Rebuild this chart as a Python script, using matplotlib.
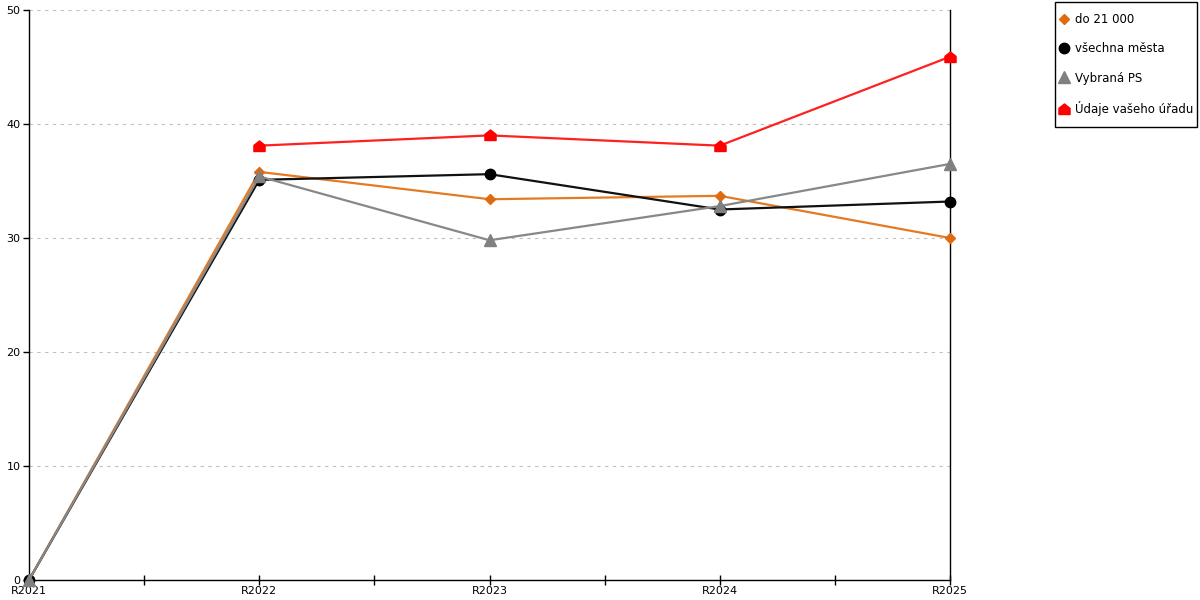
import matplotlib
matplotlib.use("Agg")
import matplotlib.pyplot as plt
from matplotlib.path import Path
from matplotlib.patches import Rectangle

# data
years = ["R2021", "R2022", "R2023", "R2024", "R2025"]
do_21000 = [0, 35.8, 33.4, 33.7, 30.0]
vsechna_mesta = [0, 35.1, 35.6, 32.5, 33.2]
vybrana_ps = [0, 35.4, 29.8, 32.8, 36.5]
vas_urad = [None, 38.1, 39.0, 38.1, 45.9]

plt.rcParams['font.family'] = ['DejaVu Sans']

# house-shaped marker for the office series
house = Path([(-1, -0.9), (1, -0.9), (1, 0.2), (0, 1), (-1, 0.2), (-1, -0.9)],
             [Path.MOVETO, Path.LINETO, Path.LINETO, Path.LINETO, Path.LINETO, Path.CLOSEPOLY])

W, H = 1200, 600
fig = plt.figure(figsize=(12, 6), dpi=100)
ax = fig.add_axes([29 / W, 20 / H, (950 - 29) / W, 570 / H])

x = list(range(len(years)))
ax.plot(x, do_21000, color="#E57A25", lw=1.6, marker="D", ms=5.5,
        mfc="#E06A10", mec="#E06A10", label="do 21 000", zorder=3, clip_on=False)
ax.plot(x, vsechna_mesta, color="#111111", lw=1.6, marker="o", ms=7.5,
        mfc="black", mec="black", label="všechna města", zorder=4, clip_on=False)
ax.plot(x, vybrana_ps, color="#888888", lw=1.6, marker="^", ms=8,
        mfc="#808080", mec="#808080", label="Vybraná PS", zorder=5, clip_on=False)
xr = [i for i, v in enumerate(vas_urad) if v is not None]
yr = [v for v in vas_urad if v is not None]
ax.plot(xr, yr, color="#FF2020", lw=1.6, marker=house, ms=8,
        mfc="red", mec="red", label="Údaje vašeho úřadu", zorder=6, clip_on=False)

ax.set_xlim(0, len(years) - 1)
ax.set_ylim(0, 50)
ax.set_yticks(range(0, 51, 10))
ax.set_xticks(x)
ax.set_xticklabels(years)
ax.set_xticks([i + 0.5 for i in x[:-1]], minor=True)
ax.tick_params(axis="x", which="both", direction="inout", length=7, width=1,
               labelsize=8, pad=1)
ax.tick_params(axis="y", direction="out", length=4, width=1, labelsize=8, pad=2)
ax.tick_params(axis="y", right=False)

ax.grid(axis="y", linestyle=(0, (3, 4)), color="#c0c0c0", lw=0.8)
ax.set_axisbelow(True)
ax.spines["top"].set_visible(False)
for s in ["left", "bottom", "right"]:
    ax.spines[s].set_linewidth(1)
    ax.spines[s].set_color("black")

# legend box drawn separately so its padding matches the reference
fig.patches.append(Rectangle((1055 / W, 1 - 127 / H), 142 / W, 125 / H,
                             transform=fig.transFigure, fill=False,
                             edgecolor="black", lw=1))
leg = fig.legend(loc="upper left", bbox_to_anchor=(1059 / W, 1 - 13 / H),
                 frameon=False, fontsize=8.5,
                 handlelength=0.8, handletextpad=0.55, labelspacing=1.38,
                 borderpad=0, borderaxespad=0)
for h in leg.get_lines():
    h.set_linestyle("none")

fig.savefig("out.png", dpi=100)
